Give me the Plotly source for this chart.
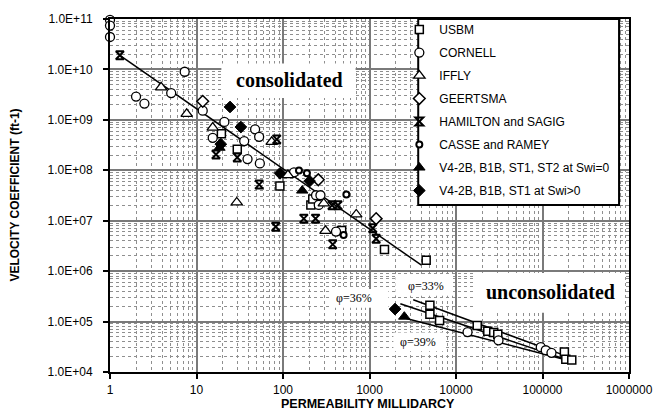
import plotly.graph_objects as go

# ---- measured data: permeability (md) vs velocity coefficient (ft^-1) ----
usbm_k = [19.4, 29.6, 92, 210, 221, 477, 1490, 4520, 4990, 4990, 6460, 17600,
          23300, 27300, 30400, 179000, 186000, 218000]
usbm_b = [5.3e8, 2.6e8, 4.9e7, 2.06e7, 2.7e7, 6.4e6, 2.7e6, 1.64e6, 2.1e5, 1.4e5,
          1.05e5, 8.4e4, 6.4e4, 6.1e4, 5.6e4, 2.5e4, 1.8e4, 1.72e4]

cornell_k = [1.0, 1.0, 1.0, 7.3, 5.1, 2.0, 2.5, 11.8, 21, 15.4, 47.6, 53, 35.6,
             38.9, 54, 134, 241, 271, 259, 410, 13600, 31000, 95500, 109000, 127000]
cornell_b = [9.6e10, 7.4e10, 4.4e10, 9.0e9, 3.4e9, 2.9e9, 2.1e9, 1.52e9, 9.1e8,
             4.4e8, 6.5e8, 4.6e8, 3.8e8, 1.67e8, 1.37e8, 9.1e7, 3.2e7, 3.2e7,
             2.06e7, 6.1e6, 6.2e4, 4.24e4, 3.1e4, 2.7e4, 2.4e4]

iffly_k = [3.9, 7.7, 15.4, 74, 29.2, 114, 296, 310, 703]
iffly_b = [4.4e9, 1.31e9, 7.0e8, 3.66e8, 2.3e7, 8.0e7, 2.2e7, 6.3e6, 1.33e7]

geertsma_k = [11.8, 256, 1194]
geertsma_b = [2.33e9, 6.5e7, 1.1e7]

hamilton_k = [1.30, 16.8, 29.6, 84.7, 53, 82.4, 174, 238, 369, 432, 376, 1091, 1194]
hamilton_b = [1.91e10, 2.06e8, 1.8e8, 4.1e8, 5.2e7, 7.6e6, 1.1e7, 1.1e7, 2.03e7,
              2.03e7, 3.4e6, 7.1e6, 4.4e6]

casse_k = [153, 189, 540, 502]
casse_b = [9.9e7, 8.7e7, 3.3e7, 5.2e6]

v4_dry_k = [18.4, 167, 2525]
v4_dry_b = [2.8e8, 3.96e7, 1.25e5]

v4_wet_k = [24.4, 32.6, 19.1, 92.4, 203, 1974]
v4_wet_b = [1.8e9, 7.2e8, 3.3e8, 8.7e7, 6.1e7, 1.77e5]

# ---- correlation lines ----
consol_k = [1.30, 3990]
consol_b = [1.91e10, 1.31e6]
phi33_k = [3205, 204000]
phi33_b = [2.7e5, 1.97e4]
phi36_k = [2271, 215000]
phi36_b = [2.25e5, 1.64e4]
phi39_k = [2663, 215000]
phi39_b = [1.15e5, 1.64e4]

x_tick_vals = [1, 10, 100, 1000, 10000, 100000, 1000000]
x_tick_text = ["1", "10", "100", "1000", "10000", "100000", "1000000"]
y_tick_vals = [1e4, 1e5, 1e6, 1e7, 1e8, 1e9, 1e10, 1e11]
y_tick_text = ["1.0E+04", "1.0E+05", "1.0E+06", "1.0E+07", "1.0E+08",
               "1.0E+09", "1.0E+10", "1.0E+11"]

# ---- layout geometry (pixels) ----
W, H = 665, 411
L, R, T, B = 110, 33, 15, 39
PW, PH = W - L - R, H - T - B


def px_x(px):
    return (px - L) / PW


def px_y(py):
    return (H - B - py) / PH


SANS = "Arial, Liberation Sans, sans-serif"
SERIF = "Times New Roman, Liberation Serif, serif"

fig = go.Figure()

for xs, ys in [(consol_k, consol_b), (phi33_k, phi33_b),
               (phi36_k, phi36_b), (phi39_k, phi39_b)]:
    fig.add_trace(go.Scatter(x=xs, y=ys, mode="lines",
                             line=dict(color="black", width=1.5),
                             showlegend=False, hoverinfo="skip"))


def add_series(name, xs, ys, symbol, size, fill, lw):
    fig.add_trace(go.Scatter(
        x=xs, y=ys, mode="markers", name=name, legendgroup=name,
        cliponaxis=False,
        marker=dict(symbol=symbol, size=size, color=fill,
                    line=dict(color="black", width=lw)),
    ))


add_series("USBM", usbm_k, usbm_b, "square", 8, "white", 1.5)
add_series("CORNELL", cornell_k, cornell_b, "circle", 9, "white", 1.3)
add_series("IFFLY", iffly_k, iffly_b, "triangle-up", 10, "white", 1.3)
add_series("GEERTSMA", geertsma_k, geertsma_b, "diamond", 9, "white", 1.5)
add_series("HAMILTON and SAGIG", hamilton_k, hamilton_b, "hourglass-open", 8, "black", 2)
add_series("CASSE and RAMEY", casse_k, casse_b, "circle", 6, "white", 2)
add_series("V4-2B, B1B, ST1, ST2 at Swi=0", v4_dry_k, v4_dry_b, "triangle-up", 10, "black", 1)
add_series("V4-2B, B1B, ST1 at Swi>0", v4_wet_k, v4_wet_b, "diamond", 9, "black", 1)

minor_x = [m * 10 ** e for e in range(0, 6) for m in range(2, 10)]
minor_y = [m * 10 ** e for e in range(4, 11) for m in range(2, 10)]

axis_common = dict(
    type="log", showline=True, linecolor="black", linewidth=2, mirror=True,
    ticks="outside", ticklen=5, tickwidth=2, tickcolor="black",
    showgrid=True, gridcolor="#7a7a7a", gridwidth=1.5,
    tickfont=dict(family=SANS, size=12, color="black"),
    zeroline=False,
)
minor_grid = dict(showgrid=True, gridcolor="#8f8f8f", gridwidth=1,
                  griddash="dot", ticks="")

fig.update_xaxes(range=[0, 6], tickvals=x_tick_vals, ticktext=x_tick_text,
                 minor=dict(tickvals=minor_x, **minor_grid),
                 ticklabelstandoff=1, **axis_common)
fig.update_yaxes(range=[4, 11], tickvals=y_tick_vals, ticktext=y_tick_text,
                 minor=dict(tickvals=minor_y, **minor_grid),
                 ticklabelstandoff=8, **axis_common)

shapes = []
# white panels behind the text labels and the legend
for x0, y0, x1, y1 in [(222, 60, 357, 95), (478, 272, 628, 312),
                       (397, 273, 455, 295), (332, 288, 390, 307),
                       (395, 332, 445, 351)]:
    shapes.append(dict(type="rect", xref="paper", yref="paper",
                       x0=px_x(x0), x1=px_x(x1), y0=px_y(y1), y1=px_y(y0),
                       fillcolor="white", line=dict(width=0), layer="above"))
shapes.append(dict(type="rect", xref="paper", yref="paper",
                   x0=px_x(420), x1=px_x(622), y0=px_y(203), y1=px_y(15),
                   fillcolor="white", line=dict(color="black", width=2),
                   layer="above"))

annotations = [
    dict(text="<b>consolidated</b>", x=px_x(291), y=px_y(77),
         font=dict(family=SERIF, size=20, color="black")),
    dict(text="<b>unconsolidated</b>", x=px_x(553), y=px_y(291),
         font=dict(family=SERIF, size=20, color="black")),
    dict(text="φ=33%", x=px_x(428), y=px_y(285),
         font=dict(family=SERIF, size=12, color="black")),
    dict(text="φ=36%", x=px_x(355), y=px_y(297),
         font=dict(family=SERIF, size=12, color="black")),
    dict(text="φ=39%", x=px_x(420), y=px_y(342),
         font=dict(family=SERIF, size=12, color="black")),
    dict(text="<b>PERMEABILITY MILLIDARCY</b>", x=px_x(369), y=px_y(404),
         font=dict(family=SANS, size=12.5, color="black")),
    dict(text="<b>VELOCITY COEFFICIENT (ft-1)</b>", x=px_x(14), y=px_y(193),
         textangle=-90, font=dict(family=SANS, size=12, color="black")),
]
for a in annotations:
    a.update(xref="paper", yref="paper", showarrow=False,
             xanchor="center", yanchor="middle")

fig.update_layout(
    width=W, height=H,
    margin=dict(l=L, r=R, t=T, b=B),
    paper_bgcolor="white", plot_bgcolor="white",
    shapes=shapes, annotations=annotations,
    legend=dict(x=px_x(401), y=px_y(11), xanchor="left", yanchor="top",
                bgcolor="rgba(0,0,0,0)", borderwidth=0,
                tracegroupgap=4,
                font=dict(family=SANS, size=12, color="black")),
    showlegend=True,
)

fig.write_html("out.html")
